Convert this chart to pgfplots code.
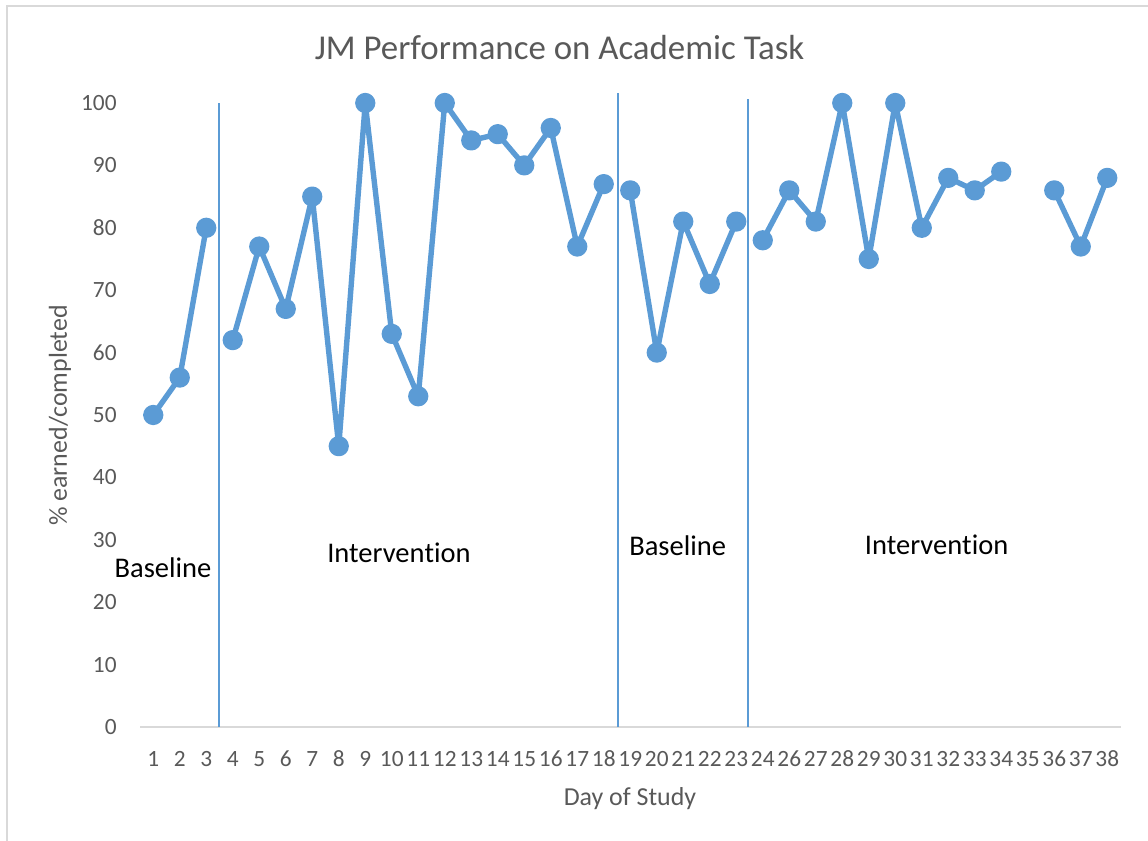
\documentclass[border=0pt]{standalone}
\usepackage{fontspec}
\setmainfont{Carlito}[Ligatures={NoCommon,NoContextual}]
\usepackage{pgfplots}
\pgfplotsset{compat=1.18}
\definecolor{xblue}{HTML}{5B9BD5}
\definecolor{xgray}{HTML}{595959}
\definecolor{xline}{HTML}{D9D9D9}
\newcommand{\intv}{Interven\kern0pt tion}
\begin{document}
\begin{tikzpicture}
\useasboundingbox (0,0) rectangle (574bp,420.5bp);
% chart frame (only top and left edges are inside the crop)
\draw[xline, line width=0.8bp] (3.5bp,-5bp) -- (3.5bp,417.6bp) -- (580bp,417.6bp);
\begin{axis}[
    at={(70bp,57bp)}, anchor=south west,
    x=13.25bp, y=3.12bp,
    xmin=-0.5, xmax=36.5, ymin=0, ymax=100,
    clip=false,
    axis x line*=bottom, axis y line*=left,
    x axis line style={xline, line width=0.8bp, -},
    y axis line style={draw=none},
    major tick length=0pt,
    xtick={0,...,36},
    xticklabels={1,2,3,4,5,6,7,8,9,10,11,12,13,14,15,16,17,18,19,20,21,22,23,24,26,27,28,29,30,31,32,33,34,35,36,37,38},
    ytick={0,10,...,100},
    /pgf/number format/assume math mode=true,
    ticklabel style={inner sep=0pt, text=xgray, font=\fontsize{11.7}{14}\selectfont},
    xticklabel style={anchor=base, yshift=-20bp},
    yticklabel style={anchor=east, xshift=-11.5bp},
    unbounded coords=jump,
]
% phase change lines
\addplot[xblue, line width=1bp] coordinates {(2.48,0) (2.48,100)};
\addplot[xblue, line width=1bp] coordinates {(17.55,0) (17.55,101.6)};
\addplot[xblue, line width=1bp] coordinates {(22.45,0) (22.45,100.6)};
% performance
\addplot[xblue, line width=2.7bp, line join=round, line cap=round,
    mark=*, mark size=3.7bp, mark options={draw=none, fill=xblue}] coordinates {
    (0,50) (1,56) (2,80) (2.5,nan)
    (3,62) (4,77) (5,67) (6,85) (7,45) (8,100) (9,63) (10,53) (11,100)
    (12,94) (13,95) (14,90) (15,96) (16,77) (17,87) (17.5,nan)
    (18,86) (19,60) (20,81) (21,71) (22,81) (22.5,nan)
    (23,78) (24,86) (25,81) (26,100) (27,75) (28,100) (29,80) (30,88)
    (31,86) (32,89) (33,nan)
    (34,86) (35,77) (36,88)
};
\node[anchor=base, font=\fontsize{14.3}{17}\selectfont] at (axis cs:0.37,23.9) {Baseline};
\node[anchor=base, font=\fontsize{14.3}{17}\selectfont] at (axis cs:9.27,26.3) {\intv};
\node[anchor=base, font=\fontsize{14.3}{17}\selectfont] at (axis cs:19.79,27.5) {Baseline};
\node[anchor=base, font=\fontsize{14.3}{17}\selectfont] at (axis cs:29.56,27.7) {\intv};
\end{axis}
\node[anchor=base, text=xgray, font=\fontsize{17.5}{21}\selectfont] at (279.75bp,390.5bp) {JM Performance on Academic Task};
\node[anchor=base, text=xgray, font=\fontsize{13}{16}\selectfont] at (315bp,18bp) {Day of Study};
\node[rotate=90, text=xgray, font=\fontsize{13}{16}\selectfont] at (30bp,212.75bp) {\% earned/completed};
\end{tikzpicture}
\end{document}
